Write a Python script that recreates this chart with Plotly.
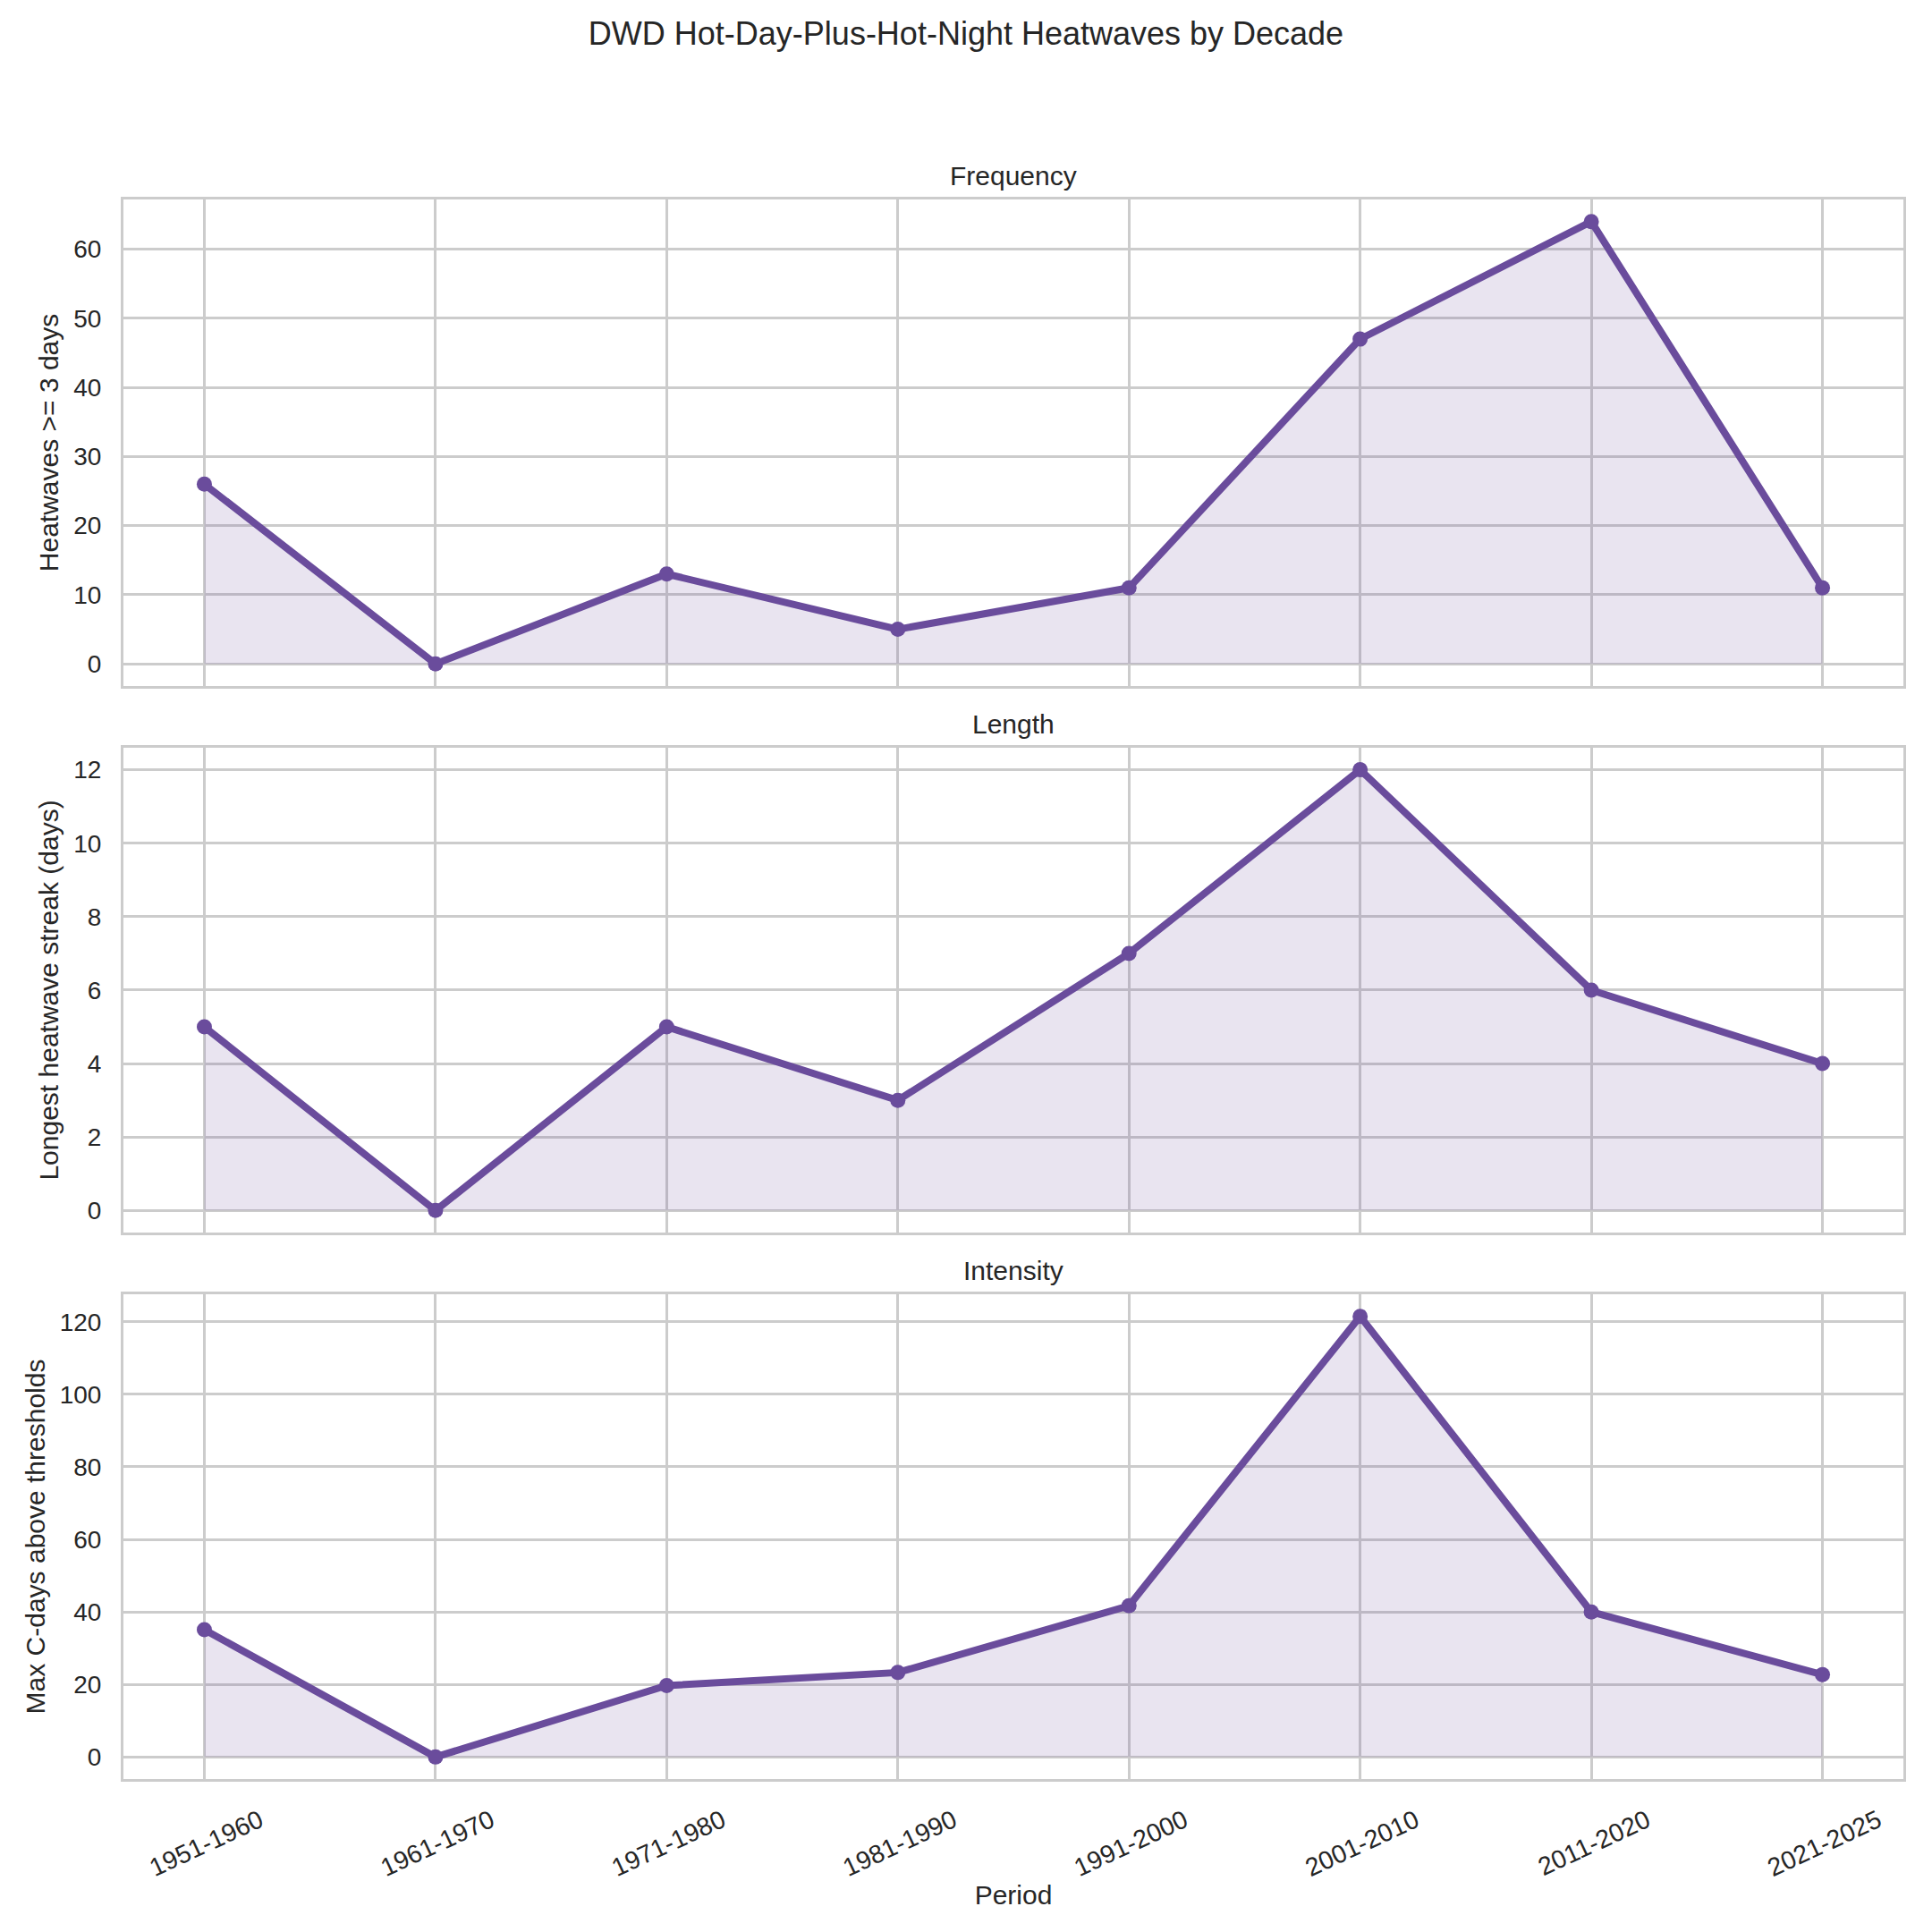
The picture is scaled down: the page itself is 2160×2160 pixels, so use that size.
import plotly.graph_objects as go
from plotly.subplots import make_subplots

periods = ["1951-1960", "1961-1970", "1971-1980", "1981-1990",
           "1991-2000", "2001-2010", "2011-2020", "2021-2025"]
frequency = [26, 0, 13, 5, 11, 47, 64, 11]
length_days = [5, 0, 5, 3, 7, 12, 6, 4]
intensity = [35.1, 0, 19.7, 23.3, 41.7, 121.5, 40.0, 22.7]

panel_titles = ["Frequency", "Length", "Intensity"]
y_titles = ["Heatwaves >= 3 days", "Longest heatwave streak (days)", "Max C-days above thresholds"]
series = [frequency, length_days, intensity]

LINE = "#6a4c9c"
FILL = "rgba(106,76,156,0.15)"
GRID = "#cccccc"
TXT = "#262626"
FONT = "Liberation Sans, Arial, sans-serif"

fig = make_subplots(rows=3, cols=1, shared_xaxes=True,
                    subplot_titles=panel_titles, vertical_spacing=0.04)

for i, vals in enumerate(series, start=1):
    fig.add_trace(go.Scatter(
        x=periods, y=vals, mode="lines+markers",
        line=dict(color=LINE, width=8),
        marker=dict(color=LINE, size=17),
        fill="tozeroy", fillcolor=FILL,
        showlegend=False, hoverinfo="skip"), row=i, col=1)

domains = [[0.6920, 1.0], [0.3460, 0.6529], [0.0, 0.3069]]

for i in range(1, 4):
    vals = series[i - 1]
    vmin, vmax = min(vals), max(vals)
    pad = (vmax - vmin) * 0.05
    fig.update_yaxes(row=i, col=1, domain=domains[i - 1],
                     range=[vmin - pad, vmax + pad],
                     showgrid=True, gridcolor=GRID, gridwidth=2.5,
                     zeroline=False, showline=True, linecolor=GRID, linewidth=3,
                     mirror=True, ticks="", ticklabelstandoff=16,
                     tickfont=dict(size=28, color=TXT, family=FONT),
                     title=dict(text=y_titles[i - 1], standoff=8,
                                font=dict(size=30, color=TXT, family=FONT)))
    fig.update_xaxes(row=i, col=1, type="category", range=[-0.35, 7.35],
                     showgrid=True, gridcolor=GRID, gridwidth=2.5,
                     zeroline=False, showline=True, linecolor=GRID, linewidth=3,
                     mirror=True, ticks="",
                     showticklabels=(i == 3),
                     tickfont=dict(size=28.5, color=TXT, family=FONT))

fig.update_yaxes(row=1, col=1, tickvals=[0, 10, 20, 30, 40, 50, 60])
fig.update_yaxes(row=2, col=1, tickvals=[0, 2, 4, 6, 8, 10, 12])
fig.update_yaxes(row=3, col=1, tickvals=[0, 20, 40, 60, 80, 100, 120])

fig.update_xaxes(row=3, col=1, tickangle=-25, ticklabelshift=62, ticklabelstandoff=16,
                 title=dict(text="Period", standoff=6,
                            font=dict(size=30, color=TXT, family=FONT)))

for k, ann in enumerate(fig.layout.annotations):
    ann.font = dict(size=30, color=TXT, family=FONT)
    ann.y = domains[k][1]
    ann.yshift = 8

fig.update_layout(
    width=2160, height=2160,
    margin=dict(l=138, r=32, t=223, b=171),
    paper_bgcolor="white", plot_bgcolor="white",
    font=dict(family=FONT, color=TXT),
    title=dict(text="DWD Hot-Day-Plus-Hot-Night Heatwaves by Decade",
               x=0.5, xanchor="center", y=1 - 37 / 2160, yanchor="middle",
               yref="container", font=dict(size=36, color=TXT, family=FONT)),
)

fig.write_html("out.html")
